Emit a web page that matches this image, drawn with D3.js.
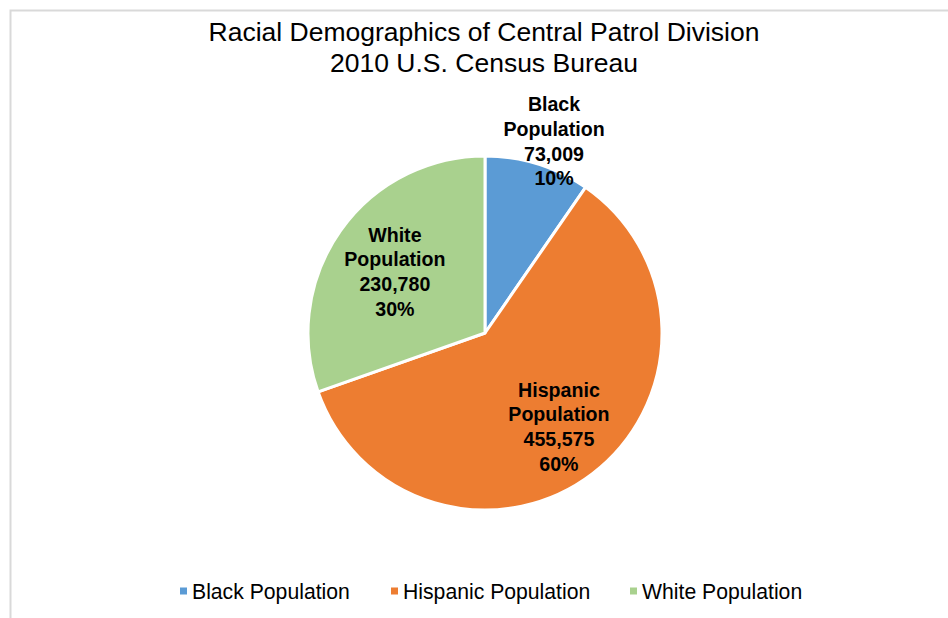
<!DOCTYPE html>
<meta charset="utf-8">
<script src="https://d3js.org/d3.v7.min.js"></script>
<style>
  body { margin: 0; background: #fff; }
  text { font-family: "Liberation Sans", Arial, sans-serif; }
</style>
<body>
<div id="my_dataviz"></div>
<script>
  // data
  var categories = ["Black Population", "Hispanic Population", "White Population"];
  var labelNames = [["Black", "Population"], ["Hispanic", "Population"], ["White", "Population"]];
  var values = [73009, 455575, 230780];
  var colors = ["#5b9bd5", "#ed7d31", "#a9d18e"];
  var titleLines = ["Racial Demographics of Central Patrol Division", "2010 U.S. Census Bureau"];

  var width = 948, height = 618;
  var cx = 485, cy = 333, radius = 177;
  // how far out each data label sits, as a share of the radius, plus a small x nudge
  var labelRadius = [1.14, 0.66, 0.61];
  var labelNudge = [9, 3, -2];

  var svg = d3.select("#my_dataviz")
    .append("svg")
    .attr("width", width)
    .attr("height", height);

  // chart area border (only top and left show in the frame)
  svg.append("rect")
    .attr("x", 10.5).attr("y", 10.5)
    .attr("width", width).attr("height", height)
    .attr("fill", "none")
    .attr("stroke", "#d9d9d9")
    .attr("stroke-width", 2);

  // title
  svg.selectAll(".title")
    .data(titleLines)
    .enter()
    .append("text")
    .attr("class", "title")
    .attr("x", 484)
    .attr("y", function (d, i) { return 40.5 + i * 31; })
    .attr("text-anchor", "middle")
    .style("font-size", "26.5px")
    .style("fill", "#000")
    .text(function (d) { return d; });

  var total = d3.sum(values);
  var pct = d3.format(".0%");
  var num = d3.format(",");

  var pie = d3.pie().sort(null).value(function (d) { return d; });
  var arcs = pie(values);
  var arc = d3.arc().innerRadius(0).outerRadius(radius);

  var g = svg.append("g").attr("transform", "translate(" + cx + "," + cy + ")");

  g.selectAll("path")
    .data(arcs)
    .enter()
    .append("path")
    .attr("d", arc)
    .attr("fill", function (d, i) { return colors[i]; })
    .attr("stroke", "#fff")
    .attr("stroke-width", 3)
    .attr("stroke-linejoin", "round");

  // data labels
  arcs.forEach(function (a, i) {
    var la = d3.arc().innerRadius(radius * labelRadius[i]).outerRadius(radius * labelRadius[i]);
    var c = la.centroid(a);
    var lines = labelNames[i].concat([num(values[i]), pct(values[i] / total)]);
    var lh = 24.7;
    var t = g.append("text")
      .attr("text-anchor", "middle")
      .style("font-size", "19.6px")
      .style("font-weight", "bold")
      .style("fill", "#000");
    lines.forEach(function (s, j) {
      t.append("tspan")
        .attr("x", c[0] + labelNudge[i])
        .attr("y", c[1] + (j - (lines.length - 1) / 2) * lh + 8)
        .text(s);
    });
  });

  // legend
  var legendX = [180, 391, 630];
  var legend = svg.selectAll(".legend")
    .data(categories)
    .enter()
    .append("g")
    .attr("class", "legend")
    .attr("transform", function (d, i) { return "translate(" + legendX[i] + ",591)"; });

  legend.append("rect")
    .attr("x", 0).attr("y", -3.5)
    .attr("width", 7).attr("height", 7)
    .attr("fill", function (d, i) { return colors[i]; });

  legend.append("text")
    .attr("x", 12)
    .attr("y", 7.5)
    .style("font-size", "21.2px")
    .style("fill", "#000")
    .text(function (d) { return d; });
</script>
</body>
